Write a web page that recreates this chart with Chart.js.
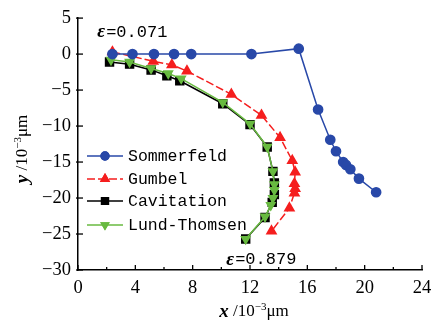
<!DOCTYPE html>
<html>
<head>
<meta charset="utf-8">
<script src="https://cdn.jsdelivr.net/npm/chart.js@4.4.1/dist/chart.umd.min.js"></script>
<style>
  body { margin: 0; background: #fff; }
  #wrap { width: 439px; height: 321px; position: relative; }
</style>
</head>
<body>
<div id="wrap"><canvas id="myChart"></canvas></div>
<script>
// series (x and y in 10^-3 um)
var sommerX = [2.4, 3.8, 5.3, 6.7, 7.9, 12.1, 15.4, 16.75, 17.6, 18.0, 18.5, 18.7, 19.0, 19.6, 20.8];
var sommerY = [0, 0, 0, 0, 0, 0, 0.75, -7.7, -11.9, -13.5, -15.0, -15.4, -16.0, -17.3, -19.2];

var gumbelX = [2.4, 5.25, 6.55, 7.6, 10.7, 12.8, 14.1, 14.95, 15.15, 15.1, 15.15, 15.1, 14.75, 13.5];
var gumbelY = [0.3, -1.0, -1.5, -2.35, -5.6, -8.5, -11.6, -14.8, -16.4, -18.0, -18.7, -19.3, -21.4, -24.6];

var cavX = [2.2, 3.6, 5.1, 6.2, 7.1, 10.1, 12.0, 13.2, 13.6, 13.7, 13.7, 13.55, 13.05, 11.7];
var cavY = [-1.1, -1.4, -2.2, -3.0, -3.7, -6.9, -9.8, -12.9, -16.3, -17.9, -19.5, -20.6, -22.7, -25.7];

var lundX = [2.3, 3.6, 5.1, 6.3, 7.2, 10.1, 12.0, 13.2, 13.6, 13.7, 13.7, 13.6, 13.45, 13.05, 11.7];
var lundY = [-0.8, -1.1, -2.0, -2.7, -3.4, -6.7, -9.7, -12.9, -16.3, -18.1, -18.9, -20.0, -21.0, -22.6, -25.7];

var seriesNames = ['Sommerfeld', 'Gumbel', 'Cavitation', 'Lund-Thomsen'];
var xTicks = [0, 4, 8, 12, 16, 20, 24];
var yTicks = [5, 0, -5, -10, -15, -20, -25, -30];
var epsLabels = [
    { x: 1.35, y: 3.0, text: '=0.071' },
    { x: 10.35, y: -28.6, text: '=0.879' }
];

function pts(xs, ys) {
    var out = [];
    for (var i = 0; i < xs.length; i++) out.push({ x: xs[i], y: ys[i] });
    return out;
}

var blue = 'rgb(40,72,168)';
var red = 'rgb(245,30,30)';
var green = 'rgb(104,186,64)';
var black = '#000';

var serif = '"Liberation Serif", "DejaVu Serif", serif';
var mono = '"Liberation Mono", "DejaVu Sans Mono", monospace';

// draws a run of differently styled pieces, centred on (x, y)
function drawRich(ctx, parts, x, y) {
    var total = 0;
    parts.forEach(function(p) { ctx.font = p.font; p.w = ctx.measureText(p.t).width; total += p.w; });
    var cx = x - total / 2;
    ctx.textBaseline = 'middle';
    ctx.textAlign = 'left';
    parts.forEach(function(p) {
        ctx.font = p.font;
        ctx.fillText(p.t, cx, y + (p.dy || 0));
        cx += p.w;
    });
}

var extras = {
    id: 'extras',
    afterDraw: function(chart) {
        var ctx = chart.ctx;
        var xs = chart.scales.x, ys = chart.scales.y;
        var area = chart.chartArea;
        ctx.save();
        ctx.strokeStyle = '#000';
        ctx.lineWidth = 1.3;
        // inward tick marks, long on labelled values
        xs.ticks.forEach(function(t) {
            var px = xs.getPixelForValue(t.value);
            var len = xTicks.indexOf(t.value) >= 0 ? 5 : 3;
            ctx.beginPath(); ctx.moveTo(px, area.bottom); ctx.lineTo(px, area.bottom - len); ctx.stroke();
        });
        ys.ticks.forEach(function(t) {
            var py = ys.getPixelForValue(t.value);
            var len = yTicks.indexOf(t.value) >= 0 ? 5 : 3;
            ctx.beginPath(); ctx.moveTo(area.left - (len > 3 ? 2 : 0), py); ctx.lineTo(area.left + len, py); ctx.stroke();
        });

        ctx.fillStyle = '#000';
        // axis titles
        var title = function(v) {
            return [
                { t: v, font: 'bold italic 19px ' + serif },
                { t: ' /10', font: '17px ' + serif },
                { t: '\u22123', font: '11px ' + serif, dy: -5 },
                { t: '\u03bcm', font: '17px ' + serif }
            ];
        };
        drawRich(ctx, title('x'), 254, 312);
        ctx.save();
        ctx.translate(23, 149);
        ctx.rotate(-Math.PI / 2);
        drawRich(ctx, title('y'), 0, 0);
        ctx.restore();

        // eccentricity notes
        epsLabels.forEach(function(e) {
            var px = xs.getPixelForValue(e.x), py = ys.getPixelForValue(e.y);
            ctx.textBaseline = 'middle';
            ctx.textAlign = 'left';
            ctx.font = 'bold italic 19px ' + serif;
            ctx.fillText('\u03b5', px, py);
            var w = ctx.measureText('\u03b5').width;
            ctx.font = '17px ' + mono;
            ctx.fillText(e.text, px + w + 1, py);
        });

        // legend inside the plot
        var rows = [156, 179, 201, 225];
        chart.data.datasets.forEach(function(ds, i) {
            var y = rows[i];
            ctx.strokeStyle = ds.borderColor;
            ctx.lineWidth = 1.5;
            ctx.setLineDash(ds.borderDash || []);
            ctx.beginPath(); ctx.moveTo(87, y); ctx.lineTo(123, y); ctx.stroke();
            ctx.setLineDash([]);
            Chart.helpers.drawPoint(ctx, {
                pointStyle: ds.pointStyle, radius: ds.pointRadius * 0.85,
                rotation: ds.rotation || 0, borderWidth: 1
            }, 105, y);
            ctx.fillStyle = ds.pointBackgroundColor;
            ctx.strokeStyle = ds.pointBorderColor;
            ctx.fill(); ctx.stroke();
            ctx.fillStyle = '#000';
            ctx.font = '16.5px ' + mono;
            ctx.textBaseline = 'middle';
            ctx.fillText(seriesNames[i], 128, y + 1);
        });
        ctx.restore();
    }
};

function series(i, xs, ys, color, style, radius, dash, order, rotation) {
    return {
        label: seriesNames[i],
        data: pts(xs, ys),
        showLine: true,
        borderColor: color,
        borderWidth: 1.5,
        borderDash: dash,
        backgroundColor: color,
        pointBackgroundColor: color,
        pointBorderColor: color,
        pointStyle: style,
        pointRadius: radius,
        pointRotation: rotation || 0,
        rotation: rotation || 0,
        order: order
    };
}

var tickFont = { family: serif, size: 18.5 };

new Chart(document.getElementById('myChart'), {
    type: 'scatter',
    data: {
        datasets: [
            series(0, sommerX, sommerY, blue, 'circle', 4.6, [], 0),
            series(1, gumbelX, gumbelY, red, 'triangle', 5.3, [8, 3], 1),
            series(2, cavX, cavY, black, 'rect', 5.6, [], 3),
            series(3, lundX, lundY, green, 'triangle', 4.8, [], 2, 180)
        ]
    },
    options: {
        responsive: true,
        maintainAspectRatio: false,
        animation: false,
        layout: { padding: { top: 14, right: 17, left: 0, bottom: 0 } },
        plugins: { legend: { display: false }, tooltip: { enabled: false } },
        scales: {
            x: {
                type: 'linear', min: 0, max: 24,
                grid: { display: false, drawTicks: false },
                border: { display: true, color: '#000', width: 1.5 },
                ticks: {
                    stepSize: 2, padding: 7, color: '#000', font: tickFont, maxRotation: 0,
                    callback: function(v) { return xTicks.indexOf(v) >= 0 ? String(v) : ''; }
                },
                afterFit: function(s) { s.height = 51; }
            },
            y: {
                type: 'linear', min: -30, max: 5,
                grid: { display: false, drawTicks: false },
                border: { display: true, color: '#000', width: 1.5 },
                ticks: {
                    stepSize: 2.5, padding: 7, color: '#000', font: tickFont,
                    callback: function(v) { return yTicks.indexOf(v) >= 0 ? String(v).replace('-', '\u2212') : ''; }
                },
                afterFit: function(s) { s.width = 78; }
            }
        }
    },
    plugins: [extras]
});
</script>
</body>
</html>
